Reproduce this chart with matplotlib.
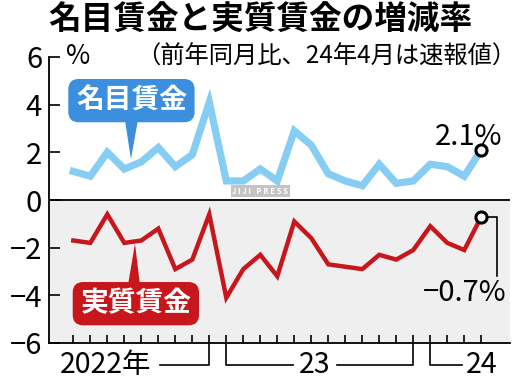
import matplotlib
matplotlib.use("Agg")
import matplotlib.pyplot as plt
from matplotlib.patches import Polygon

plt.rcParams['font.family'] = ['Noto Sans CJK JP', 'DejaVu Sans']

# Monthly, April 2022 - April 2024 (year-on-year %, Apr 2024 preliminary)
months = list(range(25))
nominal = [1.2, 1.0, 2.0, 1.3, 1.6, 2.2, 1.4, 1.9, 4.1,
           0.8, 0.8, 1.3, 0.8, 2.9, 2.3, 1.1, 0.8, 0.6, 1.5, 0.7, 0.8,
           1.5, 1.4, 1.0, 2.1]
real = [-1.7, -1.8, -0.6, -1.8, -1.7, -1.2, -2.9, -2.5, -0.6,
        -4.1, -2.9, -2.3, -3.2, -0.9, -1.6, -2.7, -2.8, -2.9, -2.3, -2.5, -2.1,
        -1.1, -1.8, -2.1, -0.7]
yticks = [-6, -4, -2, 0, 2, 4, 6]
year_labels = ["2022年", "23", "24"]

fig = plt.figure(figsize=(5.2, 3.84), dpi=100)
ax = fig.add_axes([49/520, 1-343/384, 461/520, 286/384])
ax.set_xlim(-1.43, 25.69)
ax.set_ylim(-6, 6)

ax.axhspan(-6, 0, color='#efefef', zorder=0)
ax.axhline(0, color='black', lw=1.3, zorder=2)

ax.plot(months, nominal, color='#86cdf3', lw=5.2, solid_joinstyle='miter', zorder=3)
ax.plot(months, real, color='#c8161d', lw=3.2, solid_joinstyle='miter', zorder=3)

for s in ['top', 'right']:
    ax.spines[s].set_visible(False)
for s in ['left', 'bottom']:
    ax.spines[s].set_linewidth(1.3)

ax.set_yticks(yticks)
ax.set_yticklabels([str(v).replace('-', '−') for v in yticks], fontsize=21)
ax.tick_params(axis='y', direction='in', length=8, width=1.2, pad=5)
ax.set_xticks(months)
ax.set_xticklabels([])
ax.tick_params(axis='x', direction='in', length=5.5, width=1.2)

# end markers
ax.plot(months[-1], nominal[-1], 'o', ms=8, mfc='white', mec='black', mew=2.2, zorder=5)
ax.plot(months[-1], real[-1], 'o', ms=8, mfc='white', mec='black', mew=2.2, zorder=5)
ax.text(23.25, 2.65, f"{nominal[-1]}%", fontsize=21, ha='center', va='center', zorder=6)
ax.text(23.05, -3.9, f"{real[-1]}%".replace('-', '−'), fontsize=21, ha='center',
        va='center', zorder=6)
ax.plot([months[-1] + 0.3, 24.9, 24.9], [real[-1], real[-1], -3.2], color='black', lw=1.2, zorder=4)

# label boxes
ax.text(3.42, 4.17, "名目賃金", fontsize=20, fontweight='bold', color='white',
        ha='center', va='center', zorder=7,
        bbox=dict(boxstyle='round,pad=0.25,rounding_size=0.35', fc='#3b8fde', ec='#3b8fde'))
ax.add_patch(Polygon([[3.04, 3.35], [3.8, 3.35], [3.39, 1.71]], closed=True,
                     fc='#3b8fde', ec='none', zorder=7))
ax.text(3.68, -4.35, "実質賃金", fontsize=20, fontweight='bold', color='white',
        ha='center', va='center', zorder=7,
        bbox=dict(boxstyle='round,pad=0.25,rounding_size=0.35', fc='#c8161d', ec='#c8161d'))
ax.add_patch(Polygon([[3.22, -3.55], [3.92, -3.55], [3.63, -1.83]], closed=True,
                     fc='#c8161d', ec='none', zorder=7))

# watermark
ax.text(11.0, 0.37, "J I J I   P R E S S", fontsize=5.5, color='white', fontweight='bold',
        ha='center', va='center', zorder=4,
        bbox=dict(boxstyle='square,pad=0.2', fc='#c4c4c4', ec='none'))

# year brackets below axis
tr = ax.get_xaxis_transform()
yb = -0.077
kw = dict(color='black', lw=1.2, transform=tr, clip_on=False)
ax.plot([8.0, 8.0, 5.1], [0.0, yb, yb], **kw)
ax.plot([9.0, 9.0, 12.9], [0.0, yb, yb], **kw)
ax.plot([15.5, 20.0, 20.0], [yb, yb, 0.0], **kw)
ax.plot([21.0, 21.0, 22.85], [0.0, yb, yb], **kw)
ax.text(1.92, yb, year_labels[0], fontsize=20.5, ha='center', va='center', transform=tr)
ax.text(14.2, yb, year_labels[1], fontsize=20.5, ha='center', va='center', transform=tr)
ax.text(24.0, yb, year_labels[2], fontsize=20.5, ha='center', va='center', transform=tr)

# titles
fig.text(0.5, 1-20/384, "名目賃金と実質賃金の増減率", fontsize=23.5, fontweight='bold',
         ha='center', va='center')
fig.text(0.627, 1-57/384, "（前年同月比、24年4月は速報値）", fontsize=17.5,
         ha='center', va='center')
fig.text(66/520, 1-57/384, "%", fontsize=19, ha='left', va='center')

fig.savefig("out.png", dpi=100)
